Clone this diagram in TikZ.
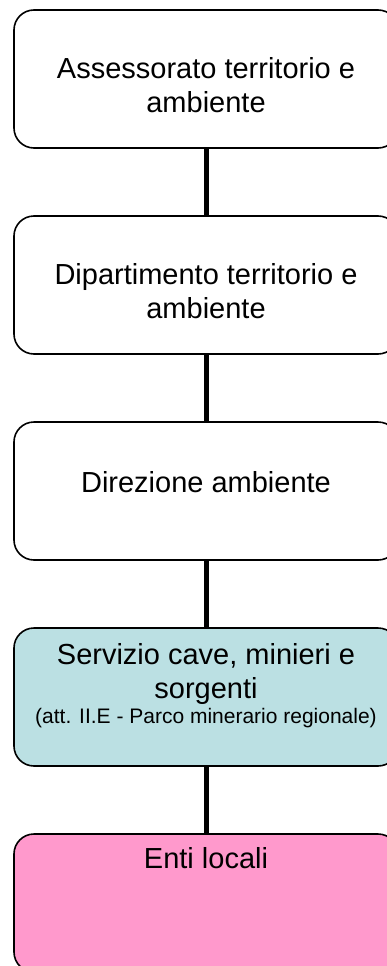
\documentclass[tikz,border=0pt]{standalone}
\usepackage{fontspec}
\setmainfont{Liberation Sans}
\usetikzlibrary{positioning}
\definecolor{servizio}{HTML}{BBE0E3}
\definecolor{enti}{HTML}{FF99CC}
\newcommand{\bigtxt}{\fontsize{29}{33.5}\selectfont}
\newcommand{\smalltxt}{\fontsize{21}{25}\selectfont}
\begin{document}
\begin{tikzpicture}[x=1pt,y=1pt,line join=round,line cap=round,font=\bigtxt,
	box/.style={draw,line width=1.6pt,rounded corners=20pt,minimum width=384pt,minimum height=138pt,inner sep=0pt,outer sep=0pt},
	lbl/.style={align=center,inner sep=0pt,anchor=base}]
			\def\gap{68pt}
			\useasboundingbox (0,0) rectangle (387,-966);
			\node[box,fill=white,anchor=north] (b1) at (206,-10) {};
			\node[box,fill=white,below=\gap of b1] (b2) {};
			\node[box,fill=white,below=\gap of b2] (b3) {};
			\node[box,fill=servizio,below=\gap of b3] (b4) {};
			\node[box,fill=enti,below=\gap of b4] (b5) {};
			% testi (base = ultima riga)
			\node[lbl] (t1) at ([yshift=-102pt]b1.north) {Assessorato territorio e\\ambiente};
			\node[lbl] (t2) at ([yshift=-102pt]b2.north) {Dipartimento territorio e\\ambiente};
			\node[lbl] (t3) at ([yshift=-70pt]b3.north) {Direzione ambiente};
			\node[lbl] (t4) at ([yshift=-95pt]b4.north) {Servizio cave, minieri e\\sorgenti\\[-8.5pt]{\smalltxt (att. II.E - Parco minerario regionale)}};
			\node[lbl] (t5) at ([yshift=-34pt]b5.north) {Enti locali};
			\foreach \a/\b in {b1/b2,b2/b3,b3/b4,b4/b5}
			\draw[line width=5pt,line cap=butt] (\a) -- (\b);
	\end{tikzpicture}
\end{document}
